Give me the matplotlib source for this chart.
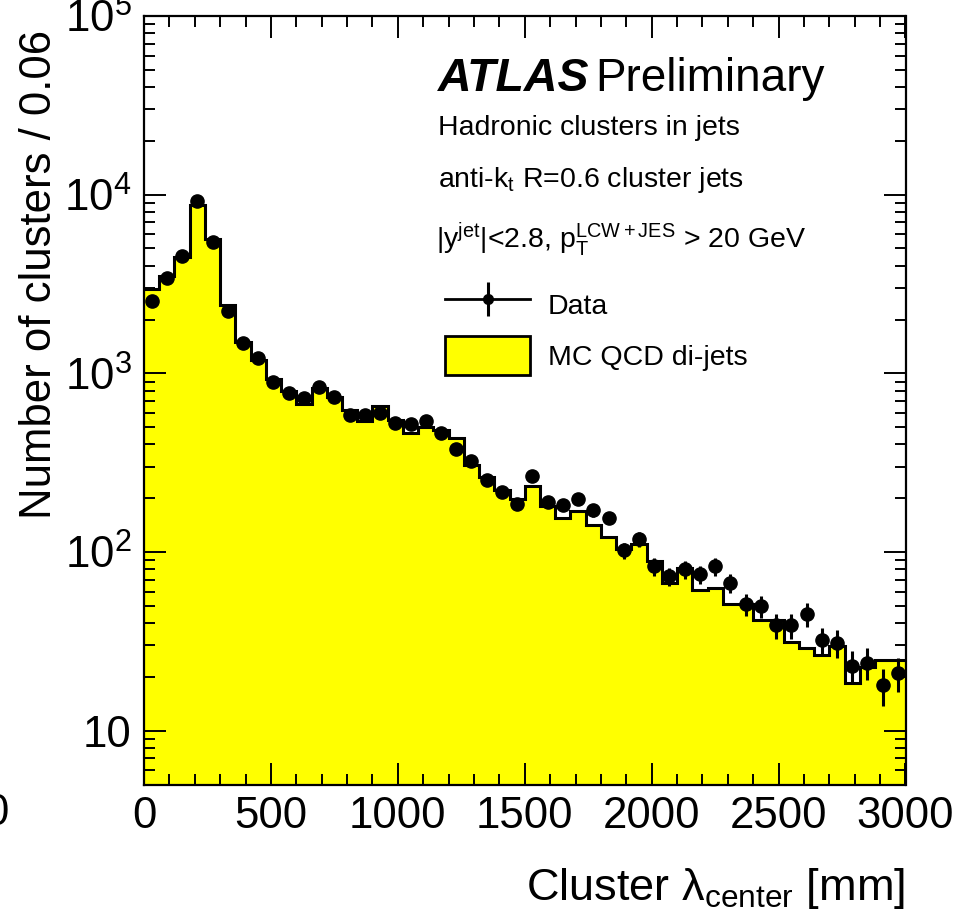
import matplotlib
matplotlib.use("Agg")
import matplotlib.pyplot as plt
import numpy as np
from matplotlib.lines import Line2D
from matplotlib.patches import Patch
from matplotlib.ticker import FixedLocator, LogLocator, MultipleLocator, NullFormatter

plt.rcParams["font.family"] = ["Liberation Sans", "DejaVu Sans"]
plt.rcParams["mathtext.fontset"] = "custom"
plt.rcParams["mathtext.rm"] = "Liberation Sans"
plt.rcParams["mathtext.it"] = "Liberation Sans:italic"
plt.rcParams["mathtext.bf"] = "Liberation Sans:bold"

# lambda_center binning: 50 bins of 60 mm
bin_width = 60
bin_edges = np.arange(0, 3000 + bin_width, bin_width)

data_counts = [
    2550, 3400, 4530, 9200, 5450, 2240, 1470, 1220, 900, 776,
    724, 835, 735, 583, 583, 598, 528, 518, 540, 464,
    376, 324, 252, 217, 185, 265, 190, 183, 197, 171,
    156, 102, 118, 83, 73, 80, 75, 83, 67, 51,
    50, 39, 39, 45, 32, 31, 23, 24, 18, 21,
]

mc_counts = [
    2960, 3515, 4455, 8745, 5640, 2410, 1490, 1186, 928, 795,
    672, 829, 739, 622, 542, 655, 547, 461, 502, 481,
    432, 306, 263, 222, 199, 234, 180, 156, 170, 141,
    122, 104, 111, 89, 67, 81.5, 61, 62.7, 51, 51,
    41.5, 41.5, 31.4, 29.2, 26.4, 29.7, 18.4, 22.7, 25, 25,
]

y_ticks = [10, 1e2, 1e3, 1e4, 1e5]
y_tick_labels = ["10", r"$10^{2}$", r"$10^{3}$", r"$10^{4}$", r"$10^{5}$"]
x_ticks = [0, 500, 1000, 1500, 2000, 2500, 3000]

data = np.array(data_counts, dtype=float)
mc = np.array(mc_counts, dtype=float)
centers = 0.5 * (bin_edges[:-1] + bin_edges[1:])

W, H = 959, 918
fig = plt.figure(figsize=(W / 100, H / 100), dpi=100)
ax = fig.add_axes([144 / W, 1 - 784.5 / H, (905.5 - 144) / W, (784.5 - 16) / H])

ax.stairs(mc, bin_edges, baseline=1.0, fill=True, color="#ffff00", zorder=1)
ax.stairs(mc, bin_edges, baseline=None, color="black", linewidth=2.2, zorder=2)
ax.errorbar(centers, data, yerr=np.sqrt(data), fmt="o", color="black",
            markersize=9.5, elinewidth=2.2, capsize=0, zorder=3)

ax.set_yscale("log")
ax.set_xlim(0, 3000)
ax.set_ylim(5, 1e5)

ax.xaxis.set_major_locator(FixedLocator(x_ticks))
ax.xaxis.set_minor_locator(MultipleLocator(100))
ax.set_yticks(y_ticks, labels=y_tick_labels)
ax.yaxis.set_minor_locator(LogLocator(base=10, subs=np.arange(2, 10)))
ax.yaxis.set_minor_formatter(NullFormatter())

ax.tick_params(which="both", direction="in", top=True, right=True,
               width=1.4, labelsize=31.5)
ax.tick_params(which="major", length=16)
ax.tick_params(which="minor", length=8)
ax.tick_params(axis="x", which="major", pad=8)
ax.tick_params(axis="y", which="major", pad=9)
for spine in ax.spines.values():
    spine.set_linewidth(1.6)

fig.text(-4 / W, 1 - 813.8 / H, "0", fontsize=31.5, ha="center", va="center")

fig.text(40 / W, 1 - 30 / H, "Number of clusters / 0.06", fontsize=31.5,
         rotation=90, ha="center", va="top")
fig.text(905 / W, 1 - 900 / H, r"Cluster λ$_{\mathrm{center}}$ [mm]",
         fontsize=32.5, ha="right", va="baseline")

# ATLAS label and selection text
fig.text(438 / W, 1 - 91 / H, "ATLAS", fontsize=33.5, fontweight="bold",
         fontstyle="italic", ha="left", va="baseline")
fig.text(595 / W, 1 - 91 / H, "Preliminary", fontsize=33,
         ha="left", va="baseline")
fig.text(438 / W, 1 - 135 / H, "Hadronic clusters in jets", fontsize=20.5,
         ha="left", va="baseline")
fig.text(438 / W, 1 - 187 / H, r"anti-k$_{\mathrm{t}}$ R=0.6 cluster jets",
         fontsize=20.5, ha="left", va="baseline")
fig.text(436 / W, 1 - 247 / H,
         r"|y$^{\mathrm{jet}}$|<2.8, p$_{\mathrm{T}}^{\mathrm{LCW+JES}}$ > 20 GeV",
         fontsize=20.5, ha="left", va="baseline")

data_handle = (
    Line2D([], [], color="black", marker="o", markersize=7, linewidth=2),
    Line2D([], [], color="black", marker="|", markersize=24,
           markeredgewidth=2.2, linestyle="none"),
)
mc_handle = Patch(facecolor="#ffff00", edgecolor="black", linewidth=2)
ax.legend([data_handle, mc_handle], ["Data", "MC QCD di-jets"],
          loc="upper left",
          bbox_to_anchor=((445 - 144) / 761.5, (784.5 - 285) / 768.5),
          frameon=False, fontsize=20.5, borderpad=0, borderaxespad=0,
          handlelength=3.0, handleheight=1.74, handletextpad=0.6,
          labelspacing=0.42)

fig.savefig("out.png", dpi=100)
